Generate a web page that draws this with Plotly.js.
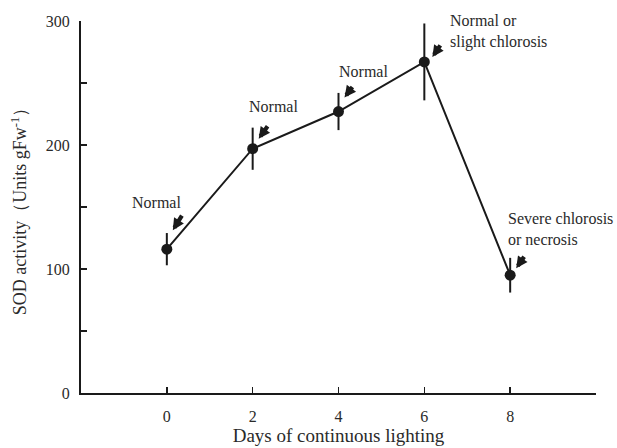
<!DOCTYPE html>
<html>
<head>
<meta charset="utf-8">
<script src="https://cdn.plot.ly/plotly-3.0.1.min.js"></script>
<style>html,body{margin:0;padding:0;background:#fff}#chart{width:617px;height:448px}</style>
</head>
<body>
<div id="chart"></div>
<script>
// Data
const days = [0, 2, 4, 6, 8];
const sodActivity = [116, 197, 227, 267, 95];
const sodError = [13, 17, 15, 31, 14];
const conditionLabels = ["Normal", "Normal", "Normal", "Normal or<br>slight chlorosis", "Severe chlorosis<br>or necrosis"];
const xTickVals = [0, 2, 4, 6, 8, 10];
const xTickText = ["0", "2", "4", "6", "8", ""];
const yTickVals = [0, 50, 100, 150, 200, 250, 300];
const yTickText = ["0", "", "100", "", "200", "", "300"];

const FONT = "Liberation Serif, Times New Roman, serif";
const INK = "#1a1a1a";
const TXT = "#2a2a2a";

// label placement (pixel offsets from the point), styles only
const labelStyle = [
  {dx: -10, dy: 47, anchor: "center"},
  {dx: 21, dy: 42, anchor: "center"},
  {dx: 25, dy: 40, anchor: "center"},
  {dx: 24, dy: 30, anchor: "left"},
  {dx: -4, dy: 46, anchor: "left"}
];
const arrowStyle = [
  {tx: 6, ty: 19, ax: 10, ay: -16},
  {tx: 6, ty: 10, ax: 10, ay: -14},
  {tx: 6, ty: 14, ax: 9, ay: -12},
  {tx: 8, ty: 5, ax: 9, ay: -13},
  {tx: 6, ty: 7, ax: 9, ay: -13}
];

const annotations = [];
days.forEach((d, i) => {
  annotations.push({
    x: d, y: sodActivity[i], xref: "x", yref: "y",
    text: "", showarrow: true,
    xshift: arrowStyle[i].tx, yshift: arrowStyle[i].ty,
    ax: arrowStyle[i].ax, ay: arrowStyle[i].ay,
    arrowhead: 2, arrowsize: 0.55, arrowwidth: 4.2, arrowcolor: INK
  });
  annotations.push({
    x: d, y: sodActivity[i], xref: "x", yref: "y",
    text: conditionLabels[i], showarrow: false,
    xshift: labelStyle[i].dx, yshift: labelStyle[i].dy,
    xanchor: labelStyle[i].anchor, yanchor: "middle", align: "left",
    font: {family: FONT, size: 16, color: TXT}
  });
});

const trace = {
  x: days, y: sodActivity, type: "scatter", mode: "lines+markers",
  line: {color: INK, width: 2},
  marker: {color: INK, size: 11, symbol: "circle"},
  error_y: {type: "data", array: sodError, visible: true, color: INK, thickness: 2, width: 0},
  showlegend: false, hoverinfo: "skip"
};

const layout = {
  width: 617, height: 448,
  margin: {l: 81, r: 21, t: 21, b: 55},
  paper_bgcolor: "#fff", plot_bgcolor: "#fff",
  font: {family: FONT, color: INK, size: 14},
  xaxis: {
    range: [-2, 10], showgrid: false, zeroline: false,
    showline: true, linecolor: INK, linewidth: 2,
    ticks: "inside", ticklen: 6, tickwidth: 1.5, tickcolor: INK,
    tickvals: xTickVals, ticktext: xTickText, ticklabelstandoff: 8,
    tickfont: {family: FONT, size: 16, color: TXT},
    title: {text: "Days of continuous lighting", font: {family: FONT, size: 19, color: TXT}, standoff: 2}
  },
  yaxis: {
    range: [0, 300], showgrid: false, zeroline: false,
    showline: true, linecolor: INK, linewidth: 2,
    ticks: "inside", ticklen: 6, tickwidth: 1.5, tickcolor: INK,
    tickvals: yTickVals, ticktext: yTickText, ticklabelstandoff: 6,
    tickfont: {family: FONT, size: 16, color: TXT},
    title: {text: "SOD activity（Units gFw<sup>-1</sup>）", font: {family: FONT, size: 18, color: TXT}, standoff: 14}
  },
  annotations: annotations
};

Plotly.newPlot("chart", [trace], layout, {displayModeBar: false, staticPlot: true});
</script>
</body>
</html>
